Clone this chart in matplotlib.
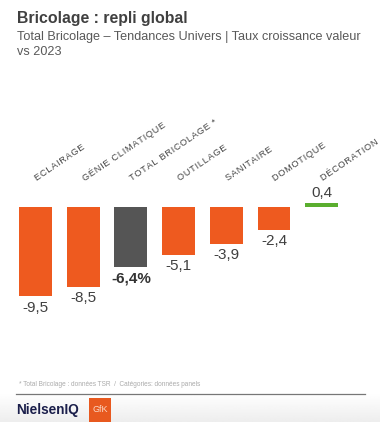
from matplotlib import pyplot as plt
import numpy as np

# Growth in value vs 2023 (%)
categories = ["ECLAIRAGE", "GÉNIE CLIMATIQUE", "TOTAL BRICOLAGE *", "OUTILLAGE",
              "SANITAIRE", "DOMOTIQUE", "DÉCORATION"]
values = [-9.5, -8.5, -6.4, -5.1, -3.9, -2.4, 0.4]
value_labels = ["-9,5", "-8,5", "-6,4%", "-5,1", "-3,9", "-2,4", "0,4"]

orange = "#EE5A1F"
gray = "#555555"
green = "#5AAE2E"
text_col = "#404040"

plt.rcParams['font.family'] = ['Liberation Sans', 'DejaVu Sans']

W, H = 380, 422
fig = plt.figure(figsize=(W / 100, H / 100), dpi=100)
fig.patch.set_facecolor("white")

# bottom gradient band behind the logos
bg = fig.add_axes([0, 0, 1, 28 / H])
grad = np.linspace(1.0, 0.93, 50).reshape(-1, 1)
bg.imshow(grad, aspect="auto", cmap="gray", vmin=0, vmax=1, extent=[0, 1, 0, 1])
bg.axis("off")

# Chart axes: y=0 at pixel 207, ~9.4 px per unit
top_px, bot_px = 207 - 6 * 9.4, 207 + 12 * 9.4
left_px = 35.5 - 0.5 * 47.7
ax = fig.add_axes([left_px / W, 1 - bot_px / H, 7 * 47.7 / W, (bot_px - top_px) / H])
ax.set_xlim(-0.5, 6.5)
ax.set_ylim(-12, 6)
ax.axis("off")

colors = [orange, orange, gray, orange, orange, orange, green]
x = np.arange(len(categories))
ax.bar(x, values, width=0.69, color=colors)

for i, (v, lab) in enumerate(zip(values, value_labels)):
    if v < 0:
        bold = "%" in lab
        ax.text(i, v - 0.45, lab, ha="center", va="top", fontsize=11,
                color="#333333" if bold else text_col,
                fontweight="bold" if bold else "normal")
    else:
        ax.text(i, v + 0.35, lab, ha="center", va="bottom", fontsize=11, color=text_col)
    # letter-spaced category labels
    spaced = "\u200a".join(categories[i])
    ax.text(i + 0.05, 2.55, spaced, rotation=34, rotation_mode="anchor",
            ha="left", va="bottom", fontsize=6.6, color="#444444")

# titles
fig.text(17 / W, 1 - 18 / H, "Bricolage : repli global", fontsize=11.4,
         fontweight="bold", color=text_col, va="center", ha="left")
fig.text(17 / W, 1 - 37 / H, "Total Bricolage – Tendances Univers | Taux croissance valeur",
         fontsize=9.1, color="#595959", va="center", ha="left")
fig.text(17 / W, 1 - 52 / H, "vs 2023", fontsize=9.1, color="#595959", va="center", ha="left")

# footnote and separator
fig.text(19 / W, 1 - 384 / H, "* Total Bricolage : données TSR  /  Catégories: données panels",
         fontsize=4.7, color="#aaaaaa", va="center", ha="left")
fig.add_artist(plt.Line2D([16 / W, 365 / W], [1 - 394 / H, 1 - 394 / H],
                          color="#777777", lw=0.9))

# logos
fig.text(16 / W, 1 - 410 / H, "NielsenIQ", fontsize=9.8, fontweight="bold",
         color="#1b1f4b", va="center", ha="left")
logo = fig.add_axes([89 / W, 0, 22 / W, 24 / H])
logo.set_facecolor("#E8591F")
logo.set_xticks([])
logo.set_yticks([])
for s in logo.spines.values():
    s.set_visible(False)
logo.text(0.5, 0.5, "GfK", color="#fbd9c8", fontsize=6.5, ha="center", va="center",
          transform=logo.transAxes)

fig.savefig("out.png", dpi=100)
